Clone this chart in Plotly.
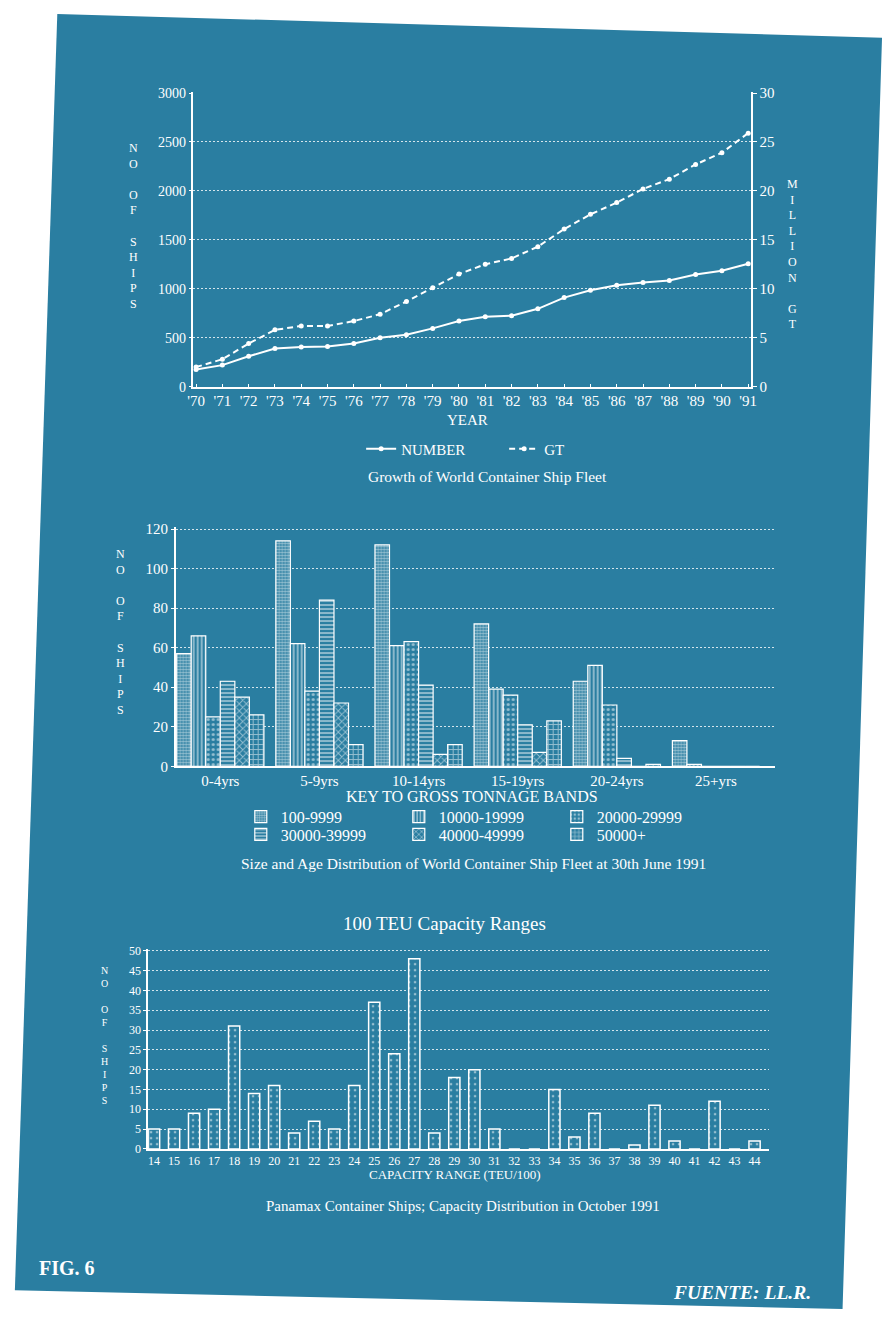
import plotly.graph_objects as go

W, H = 890, 1322
PANEL = "#2a7ea1"
INK = "white"
SERIF = "Liberation Serif, Times New Roman, serif"

# ---- Growth of world container ship fleet ----
years = list(range(1970, 1992))
year_labels = ["'70", "'71", "'72", "'73", "'74", "'75", "'76", "'77", "'78", "'79", "'80",
               "'81", "'82", "'83", "'84", "'85", "'86", "'87", "'88", "'89", "'90", "'91"]
number_of_ships = [175, 220, 310, 390, 405, 410, 440, 500, 530, 595, 670,
                   715, 725, 795, 910, 985, 1035, 1065, 1085, 1145, 1185, 1255]
gt_million = [2.0, 2.8, 4.4, 5.8, 6.2, 6.2, 6.7, 7.4, 8.7, 10.1, 11.5,
              12.5, 13.1, 14.3, 16.1, 17.6, 18.8, 20.2, 21.2, 22.7, 23.9, 25.9]
ships_ticks = [0, 500, 1000, 1500, 2000, 2500, 3000]
gt_ticks = [0, 5, 10, 15, 20, 25, 30]

# ---- Size and age distribution ----
age_bands = ["0-4yrs", "5-9yrs", "10-14yrs", "15-19yrs", "20-24yrs", "25+yrs"]
tonnage_bands = ["100-9999", "10000-19999", "20000-29999",
                 "30000-39999", "40000-49999", "50000+"]
ships_100_9999 = [57, 114, 112, 72, 43, 13]
ships_10000_19999 = [66, 62, 61, 39, 51, 1]
ships_20000_29999 = [25, 38, 63, 36, 31, 0]
ships_30000_39999 = [43, 84, 41, 21, 4, 0]
ships_40000_49999 = [35, 32, 6, 7, 0, 0]
ships_50000_plus = [26, 11, 11, 23, 1, 0]
age_ticks = [0, 20, 40, 60, 80, 100, 120]

# ---- Panamax capacity distribution ----
capacity_ranges = list(range(14, 45))
panamax_ships = [5, 5, 9, 10, 31, 14, 16, 4, 7, 5, 16, 37, 24, 48, 4, 18,
                 20, 5, 0, 0, 15, 3, 9, 0, 1, 11, 2, 0, 12, 0, 2]
capacity_ticks = [0, 5, 10, 15, 20, 25, 30, 35, 40, 45, 50]


def px(x):
    return x / W


def py(y):
    return 1 - y / H


fig = go.Figure()

# line chart
fig.add_trace(go.Scatter(
    x=years, y=number_of_ships, name="NUMBER", mode="lines+markers",
    line=dict(color=INK, width=2), marker=dict(color=INK, size=5),
    xaxis="x", yaxis="y", legend="legend", cliponaxis=False))
fig.add_trace(go.Scatter(
    x=years, y=gt_million, name="GT", mode="lines+markers",
    line=dict(color=INK, width=2, dash="6px,4px"), marker=dict(color=INK, size=5),
    xaxis="x", yaxis="y2", legend="legend", cliponaxis=False))

# grouped bars with hatch patterns per tonnage band
band_values = [ships_100_9999, ships_10000_19999, ships_20000_29999,
               ships_30000_39999, ships_40000_49999, ships_50000_plus]
band_patterns = [
    dict(shape=".", size=3, solidity=0.55),
    dict(shape="|", size=4, solidity=0.45),
    dict(shape=".", size=5, solidity=0.3),
    dict(shape="-", size=4, solidity=0.45),
    dict(shape="x", size=5, solidity=0.35),
    dict(shape="+", size=5, solidity=0.35),
]
for i, (band, vals, pat) in enumerate(zip(tonnage_bands, band_values, band_patterns)):
    fig.add_trace(go.Bar(
        x=age_bands, y=vals, name=band,
        xaxis="x2", yaxis="y3",
        legend="legend2" if i < 3 else "legend3",
        marker=dict(color=PANEL, line=dict(color=INK, width=1.2),
                    pattern=dict(fgcolor=INK, bgcolor=PANEL, fillmode="overlay", **pat)),
    ))

# capacity distribution bars
fig.add_trace(go.Bar(
    x=capacity_ranges, y=panamax_ships, name="Panamax", showlegend=False,
    xaxis="x3", yaxis="y4", width=0.56,
    marker=dict(color=PANEL, line=dict(color=INK, width=1.5),
                pattern=dict(shape=".", size=6, solidity=0.15, fgcolor=INK,
                             bgcolor=PANEL, fillmode="overlay")),
))

grid = dict(showgrid=True, gridcolor="rgba(255,255,255,0.8)", griddash="2px,2px", gridwidth=1)
axline = dict(showline=True, linecolor=INK, linewidth=1.5, zeroline=False)


def tf(size):
    return dict(family=SERIF, size=size, color=INK)


fig.update_layout(
    width=W, height=H,
    margin=dict(l=0, r=0, t=0, b=0),
    paper_bgcolor="white", plot_bgcolor="rgba(0,0,0,0)",
    barmode="group", bargap=0.12, bargroupgap=0,
    font=dict(family=SERIF, color=INK),
    xaxis=dict(domain=[px(190), px(755)], anchor="y", range=[1969.9, 1991.1],
               tickvals=years, ticktext=year_labels, showgrid=False,
               ticks="inside", ticklen=3, tickcolor=INK, tickfont=tf(15), **axline),
    yaxis=dict(domain=[py(384), py(86)], anchor="x", range=[0, 3010],
               tickvals=ships_ticks, ticks="outside", ticklen=3, tickcolor=INK,
               tickfont=tf(14), **grid, **axline),
    yaxis2=dict(overlaying="y", anchor="x", side="right", range=[0, 30.1],
                tickvals=gt_ticks, showgrid=False, ticks="outside", ticklen=4,
                tickcolor=INK, tickfont=tf(15), **axline),
    xaxis2=dict(domain=[px(172), px(780)], anchor="y3", range=[-0.45, 5.6],
                showgrid=False, ticks="", tickfont=tf(15), **axline),
    yaxis3=dict(domain=[py(768), py(526)], anchor="x2", range=[0, 121],
                tickvals=age_ticks, ticks="outside", ticklen=3, tickcolor=INK,
                tickfont=tf(15), **grid, **axline),
    xaxis3=dict(domain=[px(144), px(773)], anchor="y4", range=[13.7, 44.7],
                tickvals=capacity_ranges, showgrid=False, ticks="",
                tickfont=tf(12), **axline),
    yaxis4=dict(domain=[py(1155), py(953)], anchor="x3", range=[0, 50.4],
                tickvals=capacity_ticks, ticks="outside", ticklen=3, tickcolor=INK,
                tickfont=tf(12), **grid, **axline),
    legend=dict(orientation="h", x=px(360), xanchor="left", y=py(447), yanchor="middle",
                font=tf(15), bgcolor="rgba(0,0,0,0)", entrywidth=98, itemwidth=30),
    legend2=dict(orientation="h", x=px(238), xanchor="left", y=py(819), yanchor="middle",
                 font=tf(16), bgcolor="rgba(0,0,0,0)", entrywidth=113, itemwidth=30),
    legend3=dict(orientation="h", x=px(238), xanchor="left", y=py(837), yanchor="middle",
                 font=tf(16), bgcolor="rgba(0,0,0,0)", entrywidth=113, itemwidth=30),
)

# the blue mount behind the three charts
fig.add_shape(type="path", xref="paper", yref="paper", layer="below",
              path=(f"M {px(52)} {py(7)} L {px(888)} {py(31)} "
                    f"L {px(848)} {py(1317)} L {px(9)} {py(1298)} Z"),
              fillcolor=PANEL, line=dict(width=0))

stacked_ships = "N<br>O<br> <br>O<br>F<br> <br>S<br>H<br>I<br>P<br>S"


def note(text, x, y, size, xanchor="center"):
    fig.add_annotation(text=text, x=px(x), y=py(y), xref="paper", yref="paper",
                       xanchor=xanchor, yanchor="middle", showarrow=False,
                       font=dict(family=SERIF, size=size, color=INK))


note(stacked_ships, 129, 222, 12)
note("M<br>I<br>L<br>L<br>I<br>O<br>N<br> <br>G<br>T", 797, 250, 12)
note("YEAR", 468, 418, 15)
note("Growth of World Container Ship Fleet", 488, 475, 15.5)

note(stacked_ships, 116, 632, 12)
note("KEY TO GROSS TONNAGE BANDS", 472, 799, 16)
note("Size and Age Distribution of World Container Ship Fleet at 30th June 1991", 474, 866, 15.5)

note("100 TEU Capacity Ranges", 444, 927, 19)
note(stacked_ships, 100, 1040, 10)
note("CAPACITY RANGE (TEU/100)", 455, 1181, 13)
note("Panamax Container Ships; Capacity Distribution in October 1991", 463, 1213, 15)

note("<b>FIG. 6</b>", 31, 1275, 20, xanchor="left")
note("<b><i>FUENTE: LL.R.</i></b>", 818, 1300, 19.5, xanchor="right")

fig.write_html("out.html")
